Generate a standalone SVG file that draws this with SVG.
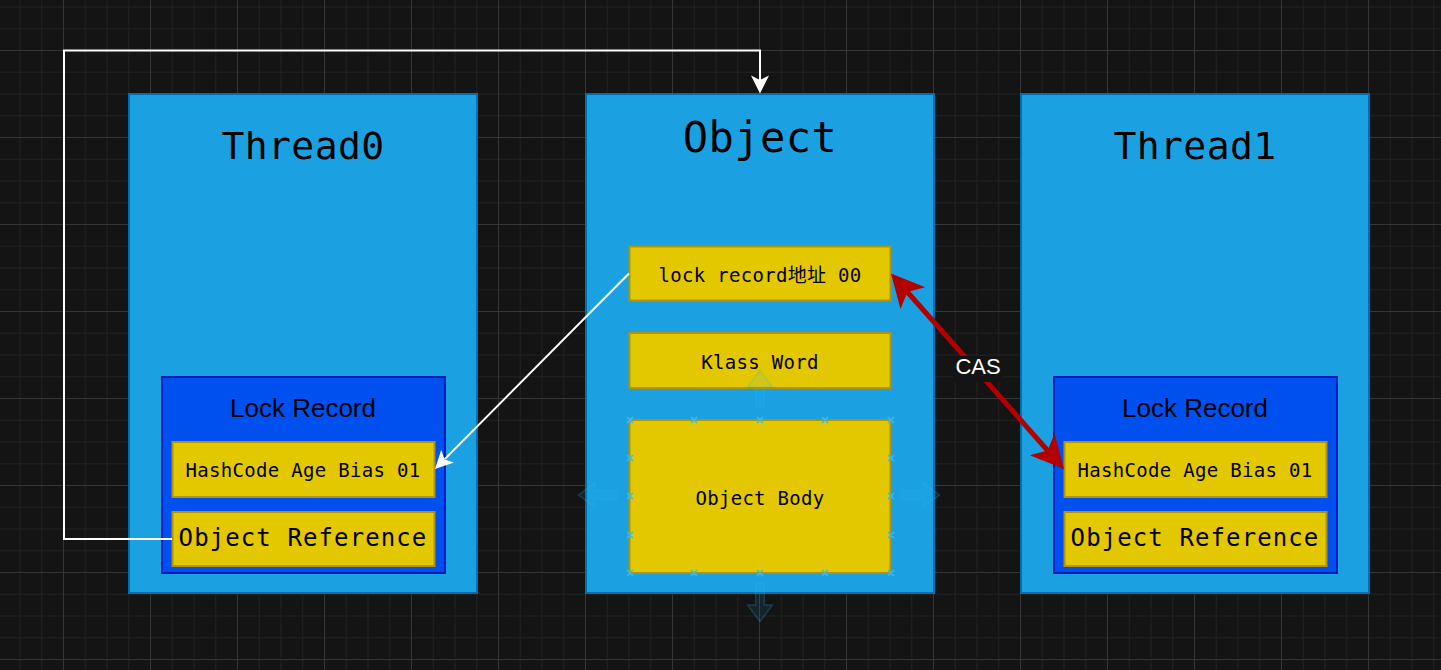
<svg xmlns="http://www.w3.org/2000/svg" width="1441" height="670" viewBox="0 0 1441 670">
<style>
.outer{fill:#1ba1e2;stroke:#006eaf;stroke-width:2}
.lr{fill:#0050ef;stroke:#001dbc;stroke-width:2}
.yb{fill:#e3c800;stroke:#b09500;stroke-width:2}
.mono{font-family:"DejaVu Sans Mono","Noto Sans CJK SC",monospace;fill:#000;text-anchor:middle}
.sans{font-family:"Liberation Sans",Arial,sans-serif;text-anchor:middle}
.title{font-size:38px;letter-spacing:0.4px}
.small{font-size:19px;letter-spacing:0.3px}
.ref{font-size:24px;letter-spacing:1.1px}
.lrt{font-size:26px;fill:#000}
.hint{fill:#29b6f2;fill-opacity:0.1;stroke:#29b6f2;stroke-opacity:0.22;stroke-width:1.5}
.pt{stroke:#3fb8ee;stroke-width:1.5;fill:none}
</style>
<defs>
<pattern id="grid" patternUnits="userSpaceOnUse" x="63" y="50" width="87" height="87">
<rect width="87" height="87" fill="#141414"/>
<g fill="#212121">
<rect x="21.75" y="0" width="1" height="87"/>
<rect x="43.5" y="0" width="1" height="87"/>
<rect x="65.25" y="0" width="1" height="87"/>
<rect x="0" y="21.75" width="87" height="1"/>
<rect x="0" y="43.5" width="87" height="1"/>
<rect x="0" y="65.25" width="87" height="1"/>
</g>
<g fill="#363636">
<rect x="0" y="0" width="1" height="87"/>
<rect x="0" y="0" width="87" height="1"/>
</g>
</pattern>
<marker id="wArrow" markerUnits="userSpaceOnUse" viewBox="-6 -10 21 20" markerWidth="21" markerHeight="20" refX="0" refY="0" orient="auto">
<path d="M13.5,0 L-4.5,-9 L0,0 L-4.5,9 Z" fill="#ffffff"/>
</marker>
<marker id="rArrow" markerUnits="userSpaceOnUse" viewBox="-10 -18 36 36" markerWidth="36" markerHeight="36" refX="0" refY="0" orient="auto-start-reverse">
<path d="M24.75,0 L-8.25,-16.5 L0,0 L-8.25,16.5 Z" fill="#b20000"/>
</marker>
</defs>
<rect width="1441" height="670" fill="url(#grid)"/>

<g id="thread0">
<rect class="outer" x="129" y="94" width="348" height="499"/>
<text class="mono title" x="303" y="159">Thread0</text>
<g id="lockrecord0">
<rect class="lr" x="162" y="377" width="283" height="196"/>
<text class="sans lrt" x="303" y="417">Lock Record</text>
<rect class="yb" x="172.5" y="442" width="262" height="55"/>
<text class="mono small" x="303" y="477">HashCode Age Bias 01</text>
<rect class="yb" x="172.5" y="512" width="262" height="54"/>
<text class="mono ref" x="303" y="546">Object Reference</text>
</g>
</g>

<g id="object">
<rect class="outer" x="586" y="94" width="348" height="499"/>
<text class="mono" x="760" y="152" style="font-size:42px;letter-spacing:0.5px">Object</text>
<rect class="yb" x="629.5" y="246.5" width="261" height="54"/>
<text class="mono small" x="760" y="282">lock record地址 00</text>
<rect class="yb" x="629.5" y="333" width="261" height="55"/>
<text class="mono small" x="760" y="369">Klass Word</text>
<rect class="yb" x="629.5" y="420" width="261" height="153"/>
<text class="mono small" x="760" y="505">Object Body</text>
</g>

<g id="thread1">
<rect class="outer" x="1021" y="94" width="348" height="499"/>
<text class="mono title" x="1195" y="159">Thread1</text>
<g id="lockrecord1">
<rect class="lr" x="1054" y="377" width="283" height="196"/>
<text class="sans lrt" x="1195" y="417">Lock Record</text>
<rect class="yb" x="1064.5" y="442" width="262" height="55"/>
<text class="mono small" x="1195" y="477">HashCode Age Bias 01</text>
<rect class="yb" x="1064.5" y="512" width="262" height="54"/>
<text class="mono ref" x="1195" y="546">Object Reference</text>
</g>
</g>

<g id="connectors" fill="none">
<path d="M172,539 H64 V50.5 H760 V80" stroke="#ffffff" stroke-width="2" marker-end="url(#wArrow)"/>
<path d="M629,273.5 L444.5,459.4" stroke="#ffffff" stroke-width="2" marker-end="url(#wArrow)"/>
<path d="M907.4,292 L1047.6,450.5" stroke="#b20000" stroke-width="5" marker-start="url(#rArrow)" marker-end="url(#rArrow)"/>
<rect x="953" y="356" width="50" height="26" fill="#141414"/>
<text class="sans" x="978" y="374" style="font-size:22px;fill:#ffffff">CAS</text>
</g>

<g id="ui-hints">
<polygon class="hint" points="578.5,495 595,482.5 595,490.7 616.5,490.7 616.5,499.3 595,499.3 595,507.5"/>
<polygon class="hint" points="939.5,495 923,482.5 923,490.7 901.5,490.7 901.5,499.3 923,499.3 923,507.5"/>
<polygon class="hint" points="760,621.5 747.5,605 755.7,605 755.7,583.5 764.3,583.5 764.3,605 772.5,605"/>
<polygon class="hint" points="760,370.5 747.5,387 755.7,387 755.7,407.5 764.3,407.5 764.3,387 772.5,387"/>
<path class="pt" d="M627,417 l6,6 m0,-6 l-6,6 M691,417 l6,6 m0,-6 l-6,6 M757,417 l6,6 m0,-6 l-6,6 M822,417 l6,6 m0,-6 l-6,6 M888,417 l6,6 m0,-6 l-6,6
M627,570 l6,6 m0,-6 l-6,6 M691,570 l6,6 m0,-6 l-6,6 M757,570 l6,6 m0,-6 l-6,6 M822,570 l6,6 m0,-6 l-6,6 M888,570 l6,6 m0,-6 l-6,6
M627,455 l6,6 m0,-6 l-6,6 M627,493 l6,6 m0,-6 l-6,6 M627,532 l6,6 m0,-6 l-6,6
M888,455 l6,6 m0,-6 l-6,6 M888,493 l6,6 m0,-6 l-6,6 M888,532 l6,6 m0,-6 l-6,6"/>
</g>
</svg>
